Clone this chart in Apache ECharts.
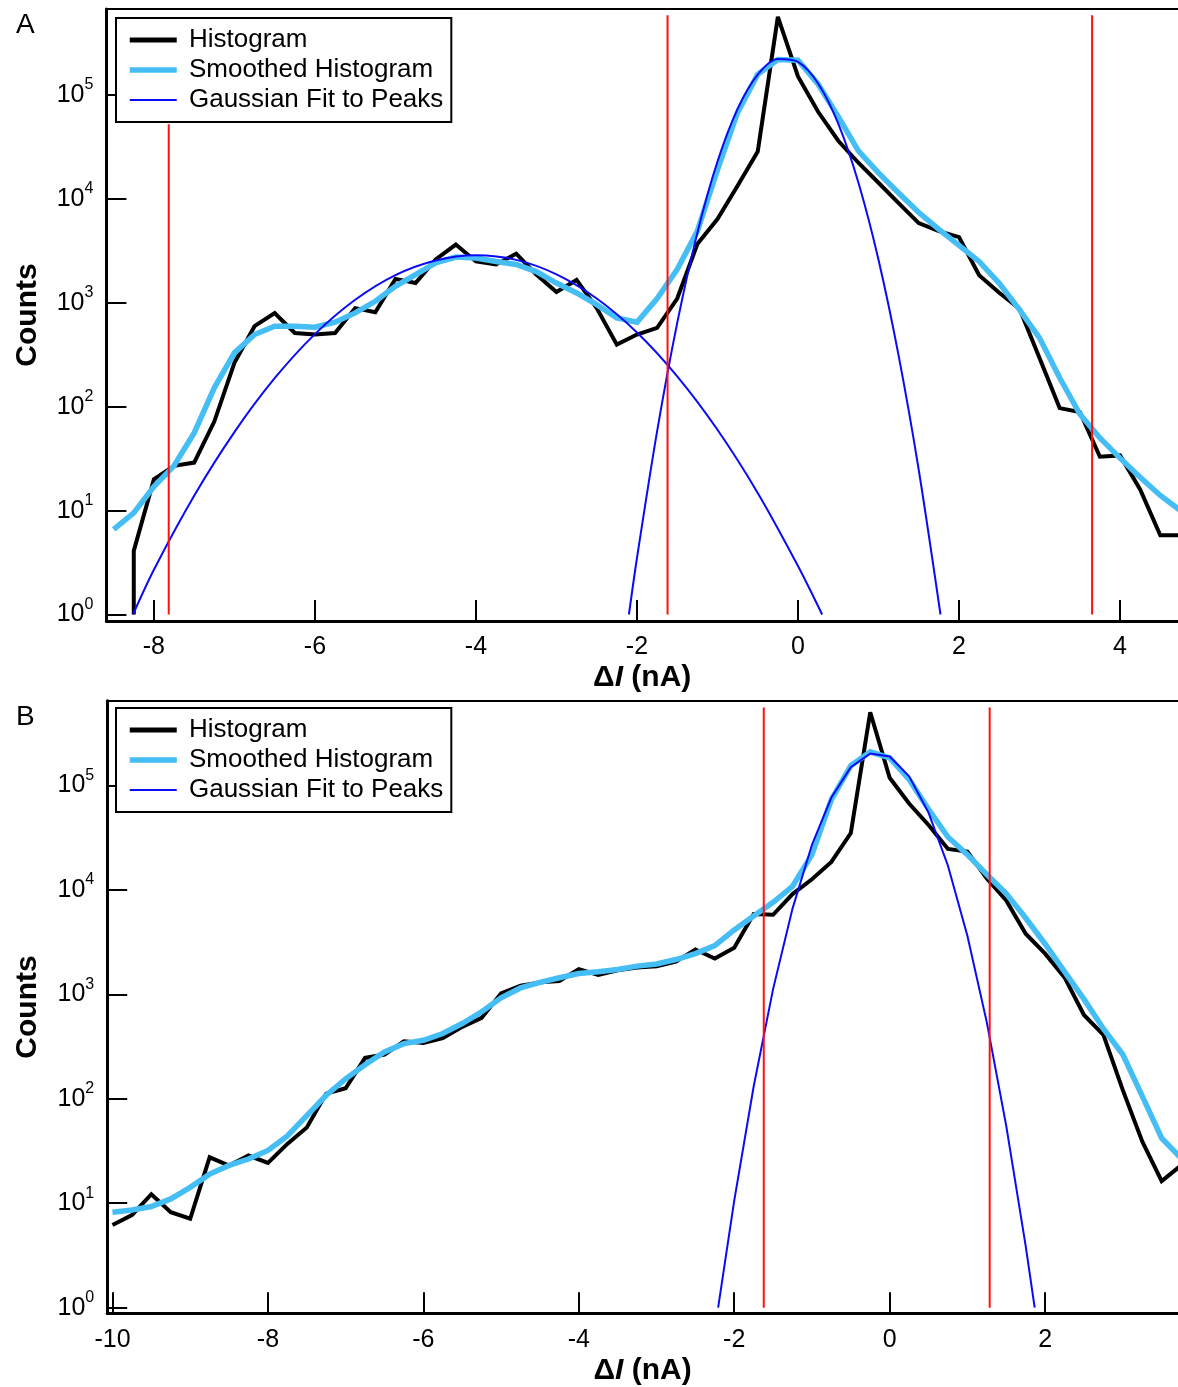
<!DOCTYPE html>
<html>
<head>
<meta charset="utf-8">
<script src="https://cdn.jsdelivr.net/npm/echarts@6/dist/echarts.min.js"></script>
<style>
  html, body { margin: 0; padding: 0; background: #fff; }
  #chart { width: 1178px; height: 1387px; }
</style>
</head>
<body>
<div id="chart"></div>
<script>
// ---------- Panel A: current-step histogram (bin centres in nA) ----------
const xHistA = [-8.25, -8.25, -8, -7.75, -7.5, -7.25, -7, -6.75, -6.5, -6.25, -6, -5.75, -5.5, -5.25, -5,
  -4.75, -4.5, -4.25, -4, -3.75, -3.5, -3.25, -3, -2.75, -2.5, -2.25, -2, -1.75, -1.5, -1.25, -1, -0.75,
  -0.5, -0.25, 0, 0.25, 0.5, 0.75, 1, 1.25, 1.5, 1.75, 2, 2.25, 2.5, 2.75, 3, 3.25, 3.5, 3.75, 4, 4.25, 4.5, 4.75];
const histA = [1, 4.1, 20, 27, 29, 72, 265, 596, 796, 512, 495, 512, 890, 813, 1700, 1550, 2620, 3640, 2500,
  2340, 2970, 1870, 1270, 1660, 890, 396, 495, 575, 1100, 3680, 6400, 13400, 28600, 565000, 151000, 69000,
  36300, 22300, 14300, 9100, 5850, 4900, 4290, 1840, 1250, 880, 295, 97, 89, 33, 34, 16, 5.8, 5.8];

const xSmoothA = [-8.5, -8.25, -8, -7.75, -7.5, -7.25, -7, -6.75, -6.5, -6.25, -6, -5.75, -5.5, -5.25, -5,
  -4.75, -4.5, -4.25, -4, -3.75, -3.5, -3.25, -3, -2.75, -2.5, -2.25, -2, -1.75, -1.5, -1.25, -1, -0.75,
  -0.5, -0.25, 0, 0.25, 0.5, 0.75, 1, 1.25, 1.5, 1.75, 2, 2.25, 2.5, 2.75, 3, 3.25, 3.5, 3.75, 4, 4.25, 4.5, 4.75];
const smoothA = [6.6, 9.5, 17, 27, 56, 152, 330, 495, 596, 596, 582, 650, 800, 1035, 1440, 1870, 2425, 2760,
  2700, 2500, 2340, 2000, 1550, 1245, 960, 716, 650, 1100, 2100, 4900, 19000, 68000, 158000, 220000, 216000,
  127000, 62000, 29000, 17800, 11400, 7400, 5100, 3570, 2500, 1540, 860, 460, 190, 85, 50, 32, 21, 14, 10];

// Gaussian fits to the two peaks of panel A
const xFitA1 = [-8.26, -8, -7.5, -7, -6.5, -6, -5.5, -5, -4.5, -4, -3.5, -3, -2.5, -2, -1.5, -1, -0.5, 0, 0.3];
const fitA1 = [1, 2.7, 13.9, 57, 188, 500, 1070, 1850, 2560, 2870, 2590, 1880, 1100, 518, 196, 60, 14.8, 2.93, 1];
const xFitA2 = [-2.1, -2, -1.75, -1.5, -1.25, -1, -0.75, -0.5, -0.25, 0, 0.25, 0.5, 0.75, 1, 1.25, 1.5, 1.77];
const fitA2 = [1, 3.5, 58, 641, 4710, 22900, 73600, 157000, 222000, 208000, 129000, 53000, 14400, 2600, 310, 24.6, 1];

// Threshold markers of panel A (position, upper end)
const cutA = [-7.816, -1.62, 3.653];
const cutTopA = [52200, 585000, 585000];

// ---------- Panel B ----------
const xB = [-10, -9.75, -9.5, -9.25, -9, -8.75, -8.5, -8.25, -8, -7.75, -7.5, -7.25, -7, -6.75, -6.5, -6.25,
  -6, -5.75, -5.5, -5.25, -5, -4.75, -4.5, -4.25, -4, -3.75, -3.5, -3.25, -3, -2.75, -2.5, -2.25, -2, -1.75,
  -1.5, -1.25, -1, -0.75, -0.5, -0.25, 0, 0.25, 0.5, 0.75, 1, 1.25, 1.5, 1.75, 2, 2.25, 2.5, 2.75, 3, 3.25, 3.5, 3.75];
const histB = [6.2, 7.7, 12.2, 8.2, 7.1, 27.5, 22.9, 28.6, 24.3, 37, 53, 112, 126, 246, 265, 355, 342, 381,
  488, 595, 1020, 1210, 1300, 1340, 1740, 1530, 1700, 1800, 1850, 2050, 2680, 2200, 2790, 5860, 5760, 9100,
  12600, 18500, 34900, 500000, 118000, 67000, 41700, 24600, 23200, 12800, 7900, 3800, 2450, 1450, 633, 410,
  121, 39, 16.3, 23];
const smoothB = [8.2, 8.6, 9.3, 11, 14.2, 19, 23, 26.5, 32, 44, 69, 108, 155, 212, 280, 337, 363, 421, 525,
  680, 925, 1150, 1300, 1440, 1580, 1640, 1730, 1860, 1950, 2150, 2450, 2920, 4130, 5600, 7600, 10800, 21700,
  73000, 154000, 209000, 183000, 114000, 59000, 32000, 21700, 14000, 9200, 5370, 3030, 1650, 898, 468, 265,
  106, 42, 27];

const xFitB = [-2.207, -2, -1.75, -1.5, -1.25, -1, -0.75, -0.5, -0.25, 0, 0.25, 0.5, 0.75, 1, 1.25, 1.5, 1.75, 1.866];
const fitB = [1, 10.6, 131, 1120, 6610, 27000, 76400, 149000, 202000, 189000, 122000, 54800, 17000, 3640, 538, 55, 3.9, 1];

const cutB = [-1.62, 1.287];
const cutTopB = [555000, 555000];

// ---------- Axis ticks ----------
const xTicksA = [-8, -6, -4, -2, 0, 2, 4];
const xTicksB = [-10, -8, -6, -4, -2, 0, 2];
const yTicks = [1, 10, 100, 1000, 10000, 100000];
const legendNames = ['Histogram', 'Smoothed Histogram', 'Gaussian Fit to Peaks'];

// ---------- Styling ----------
const FONT = '"Liberation Sans", Arial, Helvetica, sans-serif';
const BLACK = '#000000';
const CYAN = '#45bdf5';
const BLUE = '#0a0af5';
const RED = '#ff1010';
const NONE = 'rgba(0,0,0,0)';

const pairs = (xs, ys) => xs.map((x, i) => [x, ys[i]]);

function bottomAxis(gridIndex, min, max, ticks) {
  return {
    type: 'value', gridIndex, position: 'bottom', min, max,
    name: '{d|\u0394}{i|I}{d| (nA)}', nameLocation: 'middle', nameGap: 42,
    nameTextStyle: {
      rich: {
        d: { fontFamily: FONT, fontSize: 30, fontWeight: 'bold', color: BLACK },
        i: { fontFamily: FONT, fontSize: 30, fontWeight: 'bold', fontStyle: 'italic', color: BLACK }
      }
    },
    axisLine: { show: true, onZero: false, lineStyle: { color: BLACK, width: 3 } },
    axisTick: { show: true, inside: true, length: 21, customValues: ticks, lineStyle: { color: BLACK, width: 2 } },
    axisLabel: { show: true, customValues: ticks, margin: 14, fontFamily: FONT, fontSize: 25, color: BLACK },
    splitLine: { show: false }
  };
}

function frameAxis(gridIndex, min, max) {
  return {
    type: 'value', gridIndex, position: 'top', min, max,
    axisLine: { show: true, onZero: false, lineStyle: { color: BLACK, width: 2 } },
    axisTick: { show: false }, axisLabel: { show: false }, splitLine: { show: false }
  };
}

function logAxis(gridIndex, min, max) {
  return {
    type: 'log', logBase: 10, gridIndex, min, max,
    name: 'Counts', nameLocation: 'middle', nameGap: 64,
    nameTextStyle: { fontFamily: FONT, fontSize: 30, fontWeight: 'bold', color: BLACK },
    axisLine: { show: true, onZero: false, lineStyle: { color: BLACK, width: 3 } },
    axisTick: { show: true, inside: true, length: 20, customValues: yTicks, lineStyle: { color: BLACK, width: 2 } },
    axisLabel: {
      show: true, customValues: yTicks, margin: 13,
      formatter: v => '{b|10}{e|' + Math.round(Math.log10(v)) + '}',
      rich: {
        b: { fontFamily: FONT, fontSize: 25, color: BLACK, lineHeight: 36 },
        e: { fontFamily: FONT, fontSize: 16, color: BLACK, lineHeight: 16, verticalAlign: 'top' }
      }
    },
    splitLine: { show: false }
  };
}

function legendAt(top) {
  const hidden = { color: NONE, borderColor: NONE, borderWidth: 0 };
  return {
    show: true, orient: 'vertical', left: 116, top,
    padding: [7, 8, 7, 11], itemGap: 0, itemWidth: 47, itemHeight: 14,
    borderColor: BLACK, borderWidth: 2, backgroundColor: '#fff',
    selectedMode: false,
    formatter: name => ' ' + name,
    textStyle: { fontFamily: FONT, fontSize: 26, color: BLACK, lineHeight: 30 },
    data: [
      { name: legendNames[0], itemStyle: hidden, lineStyle: { width: 5, color: BLACK, cap: 'butt' } },
      { name: legendNames[1], itemStyle: hidden, lineStyle: { width: 5.5, color: CYAN, cap: 'butt' } },
      { name: legendNames[2], itemStyle: hidden, lineStyle: { width: 2, color: BLUE, cap: 'butt' } }
    ]
  };
}

function lineSeries(name, data, color, width, xi, yi, extra) {
  return Object.assign({
    type: 'line', name, data, xAxisIndex: xi, yAxisIndex: yi,
    symbol: 'none', showSymbol: false, silent: true, clip: true,
    lineStyle: { color, width, join: 'miter', miterLimit: 3, cap: 'butt' },
    itemStyle: { color }, emphasis: { disabled: true }, animation: false
  }, extra || {});
}

const series = [
  lineSeries(legendNames[0], pairs(xHistA, histA), BLACK, 4, 0, 0),
  lineSeries(legendNames[1], pairs(xSmoothA, smoothA), CYAN, 5.5, 0, 0),
  lineSeries(legendNames[2], pairs(xFitA1, fitA1), BLUE, 2, 0, 0, { smooth: 0.3 }),
  lineSeries(legendNames[2], pairs(xFitA2, fitA2), BLUE, 2, 0, 0, { smooth: 0.3 }),
  ...cutA.map((x, i) => lineSeries('cut', [[x, 1], [x, cutTopA[i]]], RED, 2, 0, 0)),

  lineSeries(legendNames[0], pairs(xB, histB), BLACK, 4, 2, 1),
  lineSeries(legendNames[1], pairs(xB, smoothB), CYAN, 5.5, 2, 1),
  lineSeries(legendNames[2], pairs(xFitB, fitB), BLUE, 2, 2, 1),
  ...cutB.map((x, i) => lineSeries('cut', [[x, 1], [x, cutTopB[i]]], RED, 2, 2, 1))
];

const option = {
  animation: false,
  backgroundColor: '#ffffff',
  textStyle: { fontFamily: FONT },
  title: [
    { text: 'A', left: 11, top: 6, textStyle: { fontFamily: FONT, fontSize: 28, fontWeight: 'normal', color: BLACK } },
    { text: 'B', left: 11, top: 698, textStyle: { fontFamily: FONT, fontSize: 28, fontWeight: 'normal', color: BLACK } }
  ],
  legend: [legendAt(18), legendAt(708)],
  grid: [
    { left: 106.4, top: 9, width: 1071.6, height: 612, outerBoundsMode: 'none' },
    { left: 107.2, top: 700.7, width: 1070.8, height: 612.6, outerBoundsMode: 'none' }
  ],
  xAxis: [
    bottomAxis(0, -8.59, 4.72, xTicksA),
    frameAxis(0, -8.59, 4.72),
    bottomAxis(1, -10.068, 3.71, xTicksB),
    frameAxis(1, -10.068, 3.71)
  ],
  yAxis: [
    logAxis(0, 0.866, 673000),
    logAxis(1, 0.884, 645700)
  ],
  series
};

const chart = echarts.init(document.getElementById('chart'), null, { renderer: 'canvas' });
chart.setOption(option);
</script>
</body>
</html>
